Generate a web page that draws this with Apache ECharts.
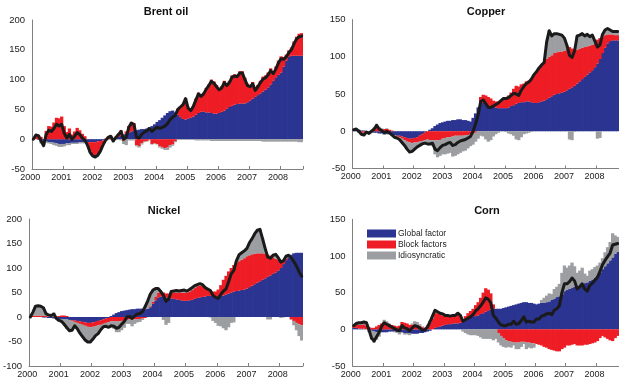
<!DOCTYPE html>
<html>
<head>
<meta charset="utf-8">
<script src="https://cdn.jsdelivr.net/npm/echarts@6/dist/echarts.min.js"></script>
<style>
  html, body { margin: 0; padding: 0; background: #ffffff; }
  #chart { width: 619px; height: 379px; }
</style>
</head>
<body>
<div id="chart"></div>
<script>
// Monthly decomposition of commodity price changes, Jan 2000 - Sep 2008 (105 months)
const startYear = 2000;
const monthCount = 105;
const seriesNames = ['Global factor', 'Block factors', 'Idiosyncratic'];

// ---- Brent oil ----
const brentGlobal = [
  0, 0, -1, -2, -3, -4, -5, -5, -6, -7, -8, -8,
  -8, -7, -7, -6, -6, -6, -5, -5, -5, -5, -5, -5,
  -5, -4, -3, -2, -1, 0, 1, 2, 3, 4, 6, 8,
  9, 11, 13, 14, 15, 16, 17, 17, 18, 20, 22, 25,
  29, 32, 36, 40, 44, 47, 48, 45, 41, 37, 34, 33,
  35, 36, 38, 41, 44, 46, 46, 45, 45, 44, 43, 43,
  44, 46, 48, 51, 54, 56, 58, 59, 60, 60, 60, 62,
  65, 68, 71, 74, 77, 80, 83, 87, 92, 98, 104, 108,
  112, 122, 132, 138, 140, 140, 140, 140, 140
];
const brentBlock = [
  0, 7, 7, 4, 0, 14, 22, 21, 28, 36, 35, 38,
  22, 12, 18, 8, 13, 19, 15, 9, 5, -3, -15, -21,
  -23, -21, -15, -6, 1, 4, 5, -3, 1, 5, 9, -3,
  4, 11, 16, 13, -10, -12, -7, -4, -3, -1, -8, -7,
  -8, -12, -14, -15, -14, -10, -9, -3, 10, 18, 25, 36,
  18, 13, 18, 27, 34, 28, 32, 41, 47, 56, 54, 48,
  42, 43, 50, 42, 44, 51, 51, 49, 54, 54, 43, 31,
  26, 28, 14, 17, 21, 25, 24, 25, 27, 16, 18, 24,
  27, 16, 10, 11, 14, 24, 32, 37, 38
];
const brentIdio = [
  0, 0, 0, -5, -8, -2, -2, -3, -4, -4, -5, -5,
  -4, -3, -3, -2, -2, -2, -2, -2, -2, -2, -2, -2,
  -2, -2, -2, -2, -2, -1, -1, -2, -1, -1, -2, -5,
  -10, -2, -2, -2, -2, -2, -2, -1, -1, -1, -1, -1,
  -1, -2, -2, -3, -4, -4, -2, -2, -1, -1, -1, -1,
  -1, -1, -1, -2, -2, -2, -2, -2, -2, -3, -3, -3,
  -3, -3, -3, -3, -3, -3, -3, -3, -3, -3, -3, -3,
  -3, -3, -3, -3, -3, -4, -4, -4, -4, -4, -4, -4,
  -4, -4, -4, -4, -4, -4, -4, -5, -5
];
const brentTotal = [
  0, 7, 6, -3, -11, 8, 15, 13, 18, 25, 22, 25,
  10, 2, 8, 0, 5, 11, 8, 2, -2, -10, -22, -28,
  -30, -27, -20, -10, -2, 3, 5, -3, 3, 8, 13, 0,
  3, 20, 27, 25, 3, 2, 8, 12, 14, 18, 13, 17,
  20, 18, 20, 22, 26, 33, 37, 40, 50, 54, 58, 68,
  52, 48, 55, 66, 76, 72, 76, 84, 90, 97, 94, 88,
  83, 86, 95, 90, 95, 104, 106, 105, 111, 111, 100, 90,
  88, 93, 82, 88, 95, 101, 103, 108, 115, 110, 118, 128,
  135, 134, 138, 145, 150, 160, 168, 172, 173
];

// ---- Copper ----
const copperGlobal = [
  2, 2, 2, 1, 1, 0, -1, -1, -2, -2, -3, -3,
  -3, -4, -4, -5, -5, -6, -6, -7, -8, -9, -10, -10,
  -9, -8, -6, -4, -2, 0, 2, 4, 7, 9, 11, 12,
  13, 14, 14, 15, 15, 16, 16, 15, 15, 14, 13, 18,
  24, 32, 40, 38, 36, 35, 34, 33, 32, 31, 31, 31,
  31, 32, 34, 35, 37, 38, 39, 39, 40, 40, 39, 38,
  38, 39, 40, 41, 43, 45, 47, 49, 50, 51, 52, 53,
  55, 57, 59, 61, 64, 67, 70, 73, 76, 79, 82, 86,
  91, 97, 105, 112, 118, 121, 122, 122, 122
];
const copperBlock = [
  0, 1, 0, -2, -2, 0, 0, 1, 3, 5, 3, 2,
  3, 3, 2, 1, 0, -1, -2, -3, -4, -5, -5, -6,
  -6, -7, -8, -9, -10, -11, -12, -12, -12, -12, -12, -10,
  -9, -8, -8, -7, -6, -6, -6, -6, -5, -5, -4, -3,
  -2, 0, 6, 11, 12, 11, 10, 8, 8, 9, 10, 12,
  14, 16, 18, 22, 24, 22, 24, 25, 27, 28, 32, 38,
  42, 45, 48, 51, 54, 55, 55, 56, 56, 56, 55, 55,
  55, 56, 52, 48, 45, 44, 42, 40, 38, 36, 34, 32,
  32, 28, 22, 17, 12, 9, 8, 7, 7
];
const copperIdio = [
  0, 0, -2, -3, -4, -1, -2, 0, 2, 5, 3, 2,
  -2, 1, 0, -1, -3, -2, -3, -5, -7, -10, -13, -11,
  -9, -6, -5, -4, -4, -6, -7, -8, -19, -23, -21, -21,
  -22, -22, -21, -27, -27, -25, -23, -21, -21, -18, -16, -15,
  -12, -10, -6, -7, -11, -14, -12, -7, -4, -2, 0, 1,
  -1, -3, -4, -6, -11, -12, -8, -4, -3, -2, -1, 0,
  0, 1, 1, 0, 23, 35, 26, 26, 25, 23, 22, 17,
  5, -11, -12, -1, 19, 18, 19, 15, 16, 12, 13, 3,
  -10, -9, 3, 7, 8, 6, 4, 5, 5
];
const copperTotal = [
  2, 3, 0, -4, -5, -1, -3, 0, 3, 8, 3, 1,
  -2, 0, -2, -5, -8, -9, -11, -15, -19, -24, -28, -27,
  -24, -21, -19, -17, -16, -17, -17, -16, -24, -26, -22, -19,
  -18, -16, -15, -19, -18, -15, -13, -12, -11, -9, -7, 0,
  10, 22, 40, 42, 37, 32, 32, 34, 36, 38, 41, 44,
  44, 45, 48, 51, 50, 48, 55, 60, 64, 66, 70, 76,
  80, 85, 89, 92, 120, 135, 128, 131, 131, 130, 129, 125,
  115, 102, 99, 108, 128, 129, 131, 128, 130, 127, 129, 121,
  113, 116, 130, 136, 138, 136, 134, 134, 134
];

// ---- Nickel ----
const nickelGlobal = [
  0, 0, 0, 0, 0, -1, -1, -2, -2, -3, -3, -4,
  -4, -5, -5, -6, -7, -7, -8, -9, -10, -11, -12, -12,
  -11, -10, -8, -7, -5, -3, -2, 2, 5, 8, 10, 12,
  13, 14, 15, 16, 16, 17, 17, 17, 16, 17, 20, 27,
  34, 40, 42, 41, 40, 39, 38, 37, 36, 35, 34, 33,
  33, 34, 35, 37, 39, 40, 41, 42, 43, 43, 42, 42,
  42, 43, 44, 46, 48, 50, 52, 53, 54, 55, 56, 58,
  61, 64, 67, 70, 73, 76, 79, 82, 85, 88, 91, 95,
  100, 108, 116, 122, 127, 130, 131, 131, 131
];
const nickelBlock = [
  1, 2, 3, 3, 3, 2, 2, 1, 1, 1, 1, 2,
  3, 3, 2, 0, -2, -3, -4, -5, -6, -7, -8, -9,
  -9, -9, -9, -9, -9, -9, -9, -9, -9, -9, -9, -8,
  -7, -6, -5, -5, -5, -4, -4, -3, -2, 0, 2, 4,
  8, 10, 10, 9, 8, 9, 12, 13, 14, 15, 16, 17,
  17, 18, 20, 22, 24, 24, 22, 18, 14, 12, 10, 10,
  14, 22, 32, 38, 45, 50, 54, 58, 60, 62, 64, 66,
  65, 64, 62, 60, 57, 54, 50, 45, 40, 34, 28, 22,
  14, 8, 3, 0, -5, -8, -12, -15, -17
];
const nickelIdio = [
  -1, 8, 19, 20, 19, 18, 6, 5, 4, 8, -1, -5,
  -8, -13, -19, -22, -18, -8, -12, -19, -24, -29, -31, -30,
  -25, -19, -17, -10, -6, -7, -10, -11, -15, -22, -22, -19,
  -15, -8, -9, -14, -9, -7, -6, -3, 7, 16, 25, 24,
  16, 8, 0, -6, -16, -12, 2, 3, 4, 3, 4, 5,
  3, 4, 5, 5, 3, 4, 3, 0, 0, -1, -8, -12,
  -18, -19, -23, -27, -21, -12, -11, 4, 13, 14, 15, 16,
  26, 32, 41, 47, 49, 30, 11, -5, -5, 4, 9, 4,
  -2, -1, 5, 4, -1, -9, -15, -24, -31
];
const nickelTotal = [
  0, 10, 22, 23, 22, 19, 7, 4, 3, 6, -3, -7,
  -9, -15, -22, -28, -27, -18, -24, -33, -40, -47, -51, -51,
  -45, -38, -34, -26, -20, -19, -21, -18, -19, -23, -21, -15,
  -9, 0, 1, -3, 2, 6, 7, 11, 21, 33, 47, 55,
  58, 58, 52, 44, 32, 36, 52, 53, 54, 53, 54, 55,
  53, 56, 60, 64, 66, 68, 66, 60, 57, 54, 44, 40,
  38, 46, 53, 57, 72, 88, 95, 115, 127, 131, 135, 140,
  152, 160, 170, 177, 179, 160, 140, 122, 120, 126, 128, 121,
  112, 115, 124, 126, 121, 113, 104, 92, 83
];

// ---- Corn ----
const cornGlobal = [
  2, 2, 1, 1, 1, 0, -1, -2, -3, -4, -4, -4,
  -4, -4, -3, -3, -3, -4, -4, -4, -5, -5, -5, -6,
  -6, -6, -5, -5, -4, -3, -2, 0, 2, 3, 4, 5,
  6, 7, 7, 8, 8, 8, 9, 11, 13, 15, 17, 18,
  18, 19, 21, 22, 24, 26, 27, 28, 28, 28, 28, 29,
  30, 31, 32, 33, 34, 35, 36, 37, 37, 36, 36, 35,
  34, 35, 36, 36, 37, 38, 40, 42, 44, 45, 47, 52,
  54, 55, 57, 58, 59, 60, 61, 63, 64, 66, 68, 70,
  73, 77, 82, 86, 90, 94, 98, 103, 106
];
const cornBlock = [
  3, 4, 5, 5, 6, 5, 3, 2, 2, 4, 6, 8,
  10, 9, 7, 6, 5, 4, 5, 10, 9, 8, 6, 6,
  7, 6, 5, 3, 2, 4, 9, 15, 20, 19, 17, 14,
  12, 11, 10, 10, 10, 12, 10, 3, 5, 7, 8, 10,
  15, 18, 22, 28, 32, 28, 22, 6, 0, -5, -9, -12,
  -15, -16, -17, -18, -18, -18, -17, -17, -18, -18, -19, -19,
  -20, -21, -22, -24, -25, -27, -28, -29, -30, -30, -27, -25,
  -22, -22, -21, -20, -22, -22, -22, -21, -21, -20, -19, -18,
  -16, -12, -9, -11, -13, -15, -16, -12, -9
];
const cornIdio = [
  0, 2, 3, 3, 3, 4, -3, -12, -15, -10, -6, 0,
  3, 2, 1, 0, -1, -1, -3, -1, -2, -2, -3, 2,
  4, 4, 2, 1, 1, 2, 3, 3, 4, 2, 1, 2,
  1, 1, 1, 1, 1, 2, 0, -3, -5, -7, -8, -8,
  -8, -9, -11, -13, -13, -13, -13, -15, -13, -13, -13, -12,
  -10, -8, -8, -4, -9, -9, -7, -3, -9, -7, -7, -6,
  0, 0, 4, 7, 9, 11, 8, 13, 14, 17, 30, 35,
  30, 32, 34, 28, 18, 20, 23, 13, 9, 14, 14, 15,
  14, 14, 15, 19, 22, 25, 33, 25, 20
];
const cornTotal = [
  5, 8, 9, 9, 10, 9, -1, -12, -16, -10, -4, 4,
  9, 7, 5, 3, 1, -1, -2, 5, 2, 1, -2, 2,
  5, 4, 2, -1, -1, 3, 10, 18, 26, 24, 22, 21,
  19, 19, 18, 19, 19, 22, 19, 11, 13, 15, 17, 20,
  25, 28, 32, 37, 43, 41, 36, 19, 15, 10, 6, 5,
  5, 7, 7, 11, 7, 8, 12, 17, 10, 11, 10, 10,
  14, 14, 18, 19, 21, 22, 20, 26, 28, 32, 50, 62,
  62, 65, 70, 66, 55, 58, 62, 55, 52, 60, 63, 67,
  71, 79, 88, 94, 99, 104, 115, 116, 117
];

// Month categories "YYYY-MM"
const months = [];
for (let i = 0; i < monthCount; i++) {
  const y = startYear + Math.floor(i / 12);
  const m = (i % 12) + 1;
  months.push(y + '-' + (m < 10 ? '0' + m : m));
}

const colors = { global: '#2B3591', block: '#EE1D25', idio: '#9C9EA1', total: '#1A1A1A' };
const labelFont = "'Liberation Sans Narrow', 'Arial Narrow', 'Liberation Sans', Arial, sans-serif";
const axisGray = '#808080';

const panels = [
  { title: 'Brent oil', g: brentGlobal, b: brentBlock, i: brentIdio, t: brentTotal,
    yMin: -50, yMax: 200, grid: { left: 32, top: 20, width: 271, height: 149 }, tx: 166, ty: 12 },
  { title: 'Copper', g: copperGlobal, b: copperBlock, i: copperIdio, t: copperTotal,
    yMin: -50, yMax: 150, grid: { left: 352.5, top: 19.5, width: 272, height: 149 }, tx: 486, ty: 12 },
  { title: 'Nickel', g: nickelGlobal, b: nickelBlock, i: nickelIdio, t: nickelTotal,
    yMin: -100, yMax: 200, grid: { left: 27.5, top: 219, width: 275.5, height: 147.7 }, tx: 164, ty: 211 },
  { title: 'Corn', g: cornGlobal, b: cornBlock, i: cornIdio, t: cornTotal,
    yMin: -50, yMax: 150, grid: { left: 352.5, top: 219.3, width: 272, height: 146.7 }, tx: 487, ty: 211 }
];

const grids = [], xAxes = [], yAxes = [], series = [], graphics = [];
const yearOnly = (idx) => idx % 12 === 0;

panels.forEach((p, k) => {
  grids.push(Object.assign({ containLabel: false }, p.grid));
  xAxes.push({
    type: 'category', gridIndex: k, data: months, boundaryGap: true,
    axisLine: { onZero: false, lineStyle: { color: axisGray, width: 1 } },
    axisTick: { show: true, inside: true, length: 3, interval: yearOnly, lineStyle: { color: axisGray } },
    axisLabel: {
      interval: yearOnly, formatter: (v) => v.slice(0, 4), margin: 4,
      fontSize: 9, color: '#222', fontFamily: labelFont, padding: [0, 6, 0, 0]
    },
    splitLine: { show: false }
  });
  yAxes.push({
    type: 'value', gridIndex: k, min: p.yMin, max: p.yMax, interval: 50,
    axisLine: { show: true, lineStyle: { color: axisGray, width: 1 } },
    axisTick: { show: false },
    axisLabel: { fontSize: 9.5, color: '#222', fontFamily: labelFont, margin: 7 },
    splitLine: { show: false }
  });
  const stackId = 'stack' + k;
  // bars slightly wider than a month so neighbouring months join without seams
  const barBase = { type: 'bar', xAxisIndex: k, yAxisIndex: k, stack: stackId,
    barWidth: 3.3, stackStrategy: 'samesign' };
  series.push(Object.assign({ name: seriesNames[0], data: p.g, itemStyle: { color: colors.global } }, barBase));
  series.push(Object.assign({ name: seriesNames[1], data: p.b, itemStyle: { color: colors.block } }, barBase));
  series.push(Object.assign({ name: seriesNames[2], data: p.i, itemStyle: { color: colors.idio } }, barBase));
  series.push({
    name: 'Total', type: 'line', xAxisIndex: k, yAxisIndex: k, data: p.t,
    symbol: 'none', z: 5,
    lineStyle: { color: colors.total, width: 3, join: 'round', cap: 'round' }
  });
  graphics.push({
    type: 'text', x: p.tx, y: p.ty,
    style: { text: p.title, align: 'center', verticalAlign: 'middle',
      fontSize: 11, fontWeight: 'bold', fontFamily: "'Liberation Sans', Arial, sans-serif", fill: '#111' }
  });
});

const chart = echarts.init(document.getElementById('chart'), null, { renderer: 'canvas' });
chart.setOption({
  animation: false,
  backgroundColor: '#ffffff',
  grid: grids,
  xAxis: xAxes,
  yAxis: yAxes,
  series: series,
  graphic: graphics,
  legend: {
    data: seriesNames, orient: 'vertical', left: 367, top: 229,
    itemWidth: 29, itemHeight: 8, itemGap: 2, icon: 'rect', padding: 0,
    textStyle: { fontSize: 8.5, color: '#222', fontFamily: labelFont, padding: [0, 0, 0, -3] },
    selectedMode: false
  }
});
</script>
</body>
</html>
